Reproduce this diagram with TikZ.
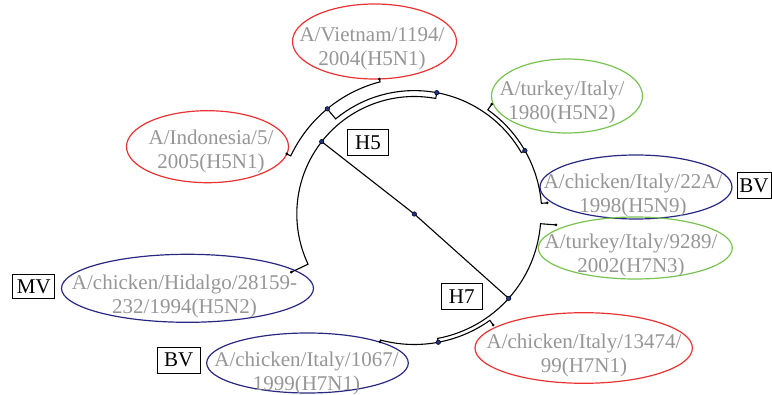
\documentclass[tikz,border=0pt]{standalone}
\usepackage{fontspec}
\setmainfont{Liberation Serif}
\definecolor{txtgray}{RGB}{150,150,150}
\definecolor{ellred}{RGB}{235,50,50}
\definecolor{ellgreen}{RGB}{120,195,80}
\definecolor{ellnavy}{RGB}{40,40,130}
\definecolor{dotnavy}{RGB}{30,50,140}
\begin{document}
\begin{tikzpicture}[x=1pt,y=1pt,
  br/.style={line width=1.1pt, black},
  inode/.style={circle, fill=dotnavy, draw=black, line width=0.5pt, minimum size=4.5pt, inner sep=0pt},
  lnode/.style={circle, fill=black, minimum size=3pt, inner sep=0pt},
  lbl/.style={font=\fontsize{21}{24}\selectfont, text=txtgray, align=center, inner sep=0pt},
  tagbox/.style={draw, line width=0.9pt, font=\fontsize{21}{24}\selectfont, minimum width=41pt, minimum height=26pt, inner sep=0pt},
  ell/.style={line width=1.2pt}]
\useasboundingbox (0,0) rectangle (772,-395);

% ellipses
\draw[ell, ellred]   (374.5,-41.5) ellipse [x radius=82, y radius=37.5];
\draw[ell, ellred]   (207.5,-146.7) ellipse [x radius=81, y radius=36];
\draw[ell, ellgreen] (567,-96) ellipse [x radius=75.5, y radius=37];
\draw[ell, ellnavy]  (636,-187) ellipse [x radius=96, y radius=32];
\draw[ell, ellgreen] (635.3,-248) ellipse [x radius=97, y radius=31];
\draw[ell, ellred]   (583.7,-348) ellipse [x radius=108.7, y radius=35.3];
\draw[ell, ellnavy]  (307.5,-363) ellipse [x radius=100.8, y radius=30];
\draw[ell, ellnavy]  (187.5,-288.3) ellipse [x radius=126, y radius=34];

% labels
\node[lbl] (tvi)  at (372,-49)   {A/Vietnam/1194/\\2004(H5N1)};
\node[lbl] (tin)  at (211,-151)  {A/Indonesia/5/\\2005(H5N1)};
\node[lbl] (ttu1) at (562,-102)  {A/turkey/Italy/\\1980(H5N2)};
\node[lbl] (tc22) at (633,-195)  {A/chicken/Italy/22A/\\1998(H5N9)};
\node[lbl] (tt92) at (631,-255.5){A/turkey/Italy/9289/\\2002(H7N3)};
\node[lbl] (tc13) at (584,-355)  {A/chicken/Italy/13474/\\99(H7N1)};
\node[lbl] (tc10) at (306.5,-373){A/chicken/Italy/1067/\\1999(H7N1)};
\node[lbl] (thi)  at (184.5,-296){A/chicken/Hidalgo/28159-\\232/1994(H5N2)};

% tags
\node[tagbox] (bH5) at (368,-142.5) {H5};
\node[tagbox] (bH7) at (461.7,-296.7) {H7};
\node[tagbox, minimum width=34pt] (bBV1) at (754,-185.5) {BV};
\node[tagbox, minimum width=43pt] (bBV2) at (178.7,-360) {BV};
\node[tagbox, minimum width=42pt, minimum height=24pt] (bMV) at (33.8,-286.3) {MV};

% tree
\begin{scope}[shift={(414.3,-214)}]
\coordinate (O) at (0,0);
\coordinate (h5) at (142:117.5);
\coordinate (h7) at (-41.8:126.6);
\coordinate (A) at (79.5:123.4);
\coordinate (B) at (129.6:136.5);
\coordinate (C) at (29.8:127.5);
\coordinate (D) at (-79.4:130.5);
\coordinate (vi) at (104.5:139.5);
\coordinate (ind) at (154.8:141);
\coordinate (tu1) at (54.8:134.5);
\coordinate (c22) at (4.8:133.4);
\coordinate (hid) at (205.3:136.1);
\coordinate (t92) at (-4.4:142.1);
\coordinate (c134) at (-54.6:136.2);
\coordinate (c106) at (-105:132.5);

\draw[br] (h5) -- (O) -- (h7);
\draw[br] (h5) arc[start angle=142, end angle=205.3, radius=117.5] -- (hid);
\draw[br] (h5) arc[start angle=142, end angle=79.5, radius=117.5] -- (A);
\draw[br] (A) arc[start angle=79.5, end angle=129.6, radius=123.4] -- (B);
\draw[br] (A) arc[start angle=79.5, end angle=29.8, radius=123.4] -- (C);
\draw[br] (B) arc[start angle=129.6, end angle=104.5, radius=136.5] -- (vi);
\draw[br] (B) arc[start angle=129.6, end angle=154.8, radius=136.5] -- (ind);
\draw[br] (C) arc[start angle=29.8, end angle=54.8, radius=127.5] -- (tu1);
\draw[br] (C) arc[start angle=29.8, end angle=4.8, radius=127.5] -- (c22);
\draw[br] (h7) arc[start angle=-41.8, end angle=-4.4, radius=126.6] -- (t92);
\draw[br] (h7) arc[start angle=-41.8, end angle=-79.4, radius=126.6] -- (D);
\draw[br] (D) arc[start angle=-79.4, end angle=-54.6, radius=130.5] -- (c134);
\draw[br] (D) arc[start angle=-79.4, end angle=-105, radius=130.5] -- (c106);

\foreach \n in {O,h5,h7,A,B,C,D} \node[inode] (d\n) at (\n) {};
\foreach \n in {vi,ind,tu1,c22,hid,t92,c134,c106} \node[lnode] (d\n) at (\n) {};
\end{scope}
\end{tikzpicture}
\end{document}
